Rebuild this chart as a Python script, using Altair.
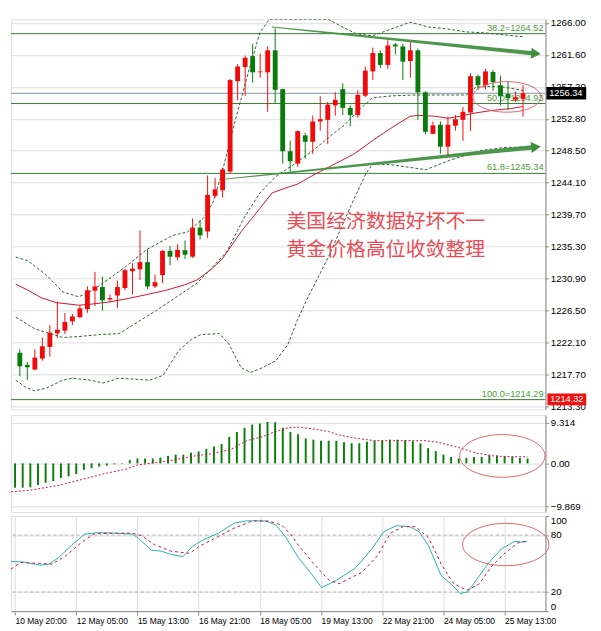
import altair as alt
import pandas as pd

# ---------------- time axis ----------------
time_labels = ["10 May 20:00", "12 May 05:00", "15 May 13:00", "16 May 21:00",
               "18 May 05:00", "19 May 13:00", "22 May 21:00", "24 May 05:00", "25 May 13:00"]
time_label_bars = [0, 8, 16, 24, 32, 40, 48, 56, 64]

# ---------------- candles ----------------
opens = [1220.72, 1219.05, 1218.42, 1219.93, 1221.52, 1223.39, 1223.75, 1225.04, 1225.61, 1226.72,
         1229.25, 1229.74, 1228.05, 1228.58, 1229.61, 1231.91, 1232.18, 1233.16, 1229.83, 1231.38,
         1234.71, 1233.83, 1234.80, 1233.91, 1237.90, 1237.37, 1242.26, 1243.02, 1245.59, 1258.01,
         1259.93, 1261.43, 1259.21, 1259.21, 1262.23, 1256.90, 1248.38, 1246.69, 1250.56, 1249.68,
         1252.47, 1252.69, 1254.68, 1256.90, 1254.34, 1253.35, 1256.01, 1259.34, 1261.87, 1260.23,
         1263.03, 1262.77, 1260.77, 1262.23, 1256.47, 1250.78, 1252.02, 1249.01, 1251.89, 1252.69,
         1253.71, 1258.68, 1257.44, 1259.26, 1257.44, 1256.24, 1255.48, 1255.58]
highs = [1221.22, 1219.49, 1221.22, 1222.81, 1224.55, 1227.74, 1226.18, 1226.05, 1227.25, 1229.83,
         1231.83, 1231.17, 1228.72, 1230.63, 1232.27, 1233.03, 1237.51, 1234.94, 1231.47, 1234.80,
         1235.37, 1235.60, 1236.13, 1239.16, 1238.93, 1245.06, 1244.70, 1246.12, 1258.30, 1260.33,
         1261.50, 1263.13, 1261.79, 1262.77, 1265.26, 1256.95, 1249.81, 1251.25, 1250.91, 1253.27,
         1255.94, 1255.14, 1256.47, 1257.71, 1254.68, 1256.77, 1260.01, 1262.59, 1262.23, 1263.66,
         1263.26, 1263.13, 1263.34, 1262.46, 1256.60, 1252.47, 1252.47, 1253.14, 1253.35, 1254.47,
         1259.13, 1258.90, 1259.70, 1259.57, 1258.77, 1258.01, 1256.55, 1257.44]
lows = [1217.49, 1216.96, 1218.30, 1219.62, 1220.19, 1222.72, 1223.31, 1224.51, 1225.45, 1226.19,
        1227.17, 1226.51, 1227.61, 1226.85, 1229.30, 1228.72, 1230.71, 1229.48, 1229.60, 1230.27,
        1232.71, 1233.38, 1233.60, 1233.74, 1236.27, 1236.49, 1242.03, 1242.03, 1245.36, 1255.35,
        1256.01, 1257.80, 1258.47, 1253.80, 1255.00, 1246.69, 1245.59, 1246.25, 1247.36, 1248.03,
        1251.22, 1249.36, 1253.27, 1253.35, 1251.81, 1253.00, 1255.80, 1258.15, 1259.79, 1259.66,
        1261.66, 1258.15, 1258.47, 1252.69, 1250.69, 1250.69, 1248.03, 1247.81, 1251.22, 1249.81,
        1251.14, 1256.81, 1256.91, 1256.68, 1254.68, 1254.02, 1255.14, 1253.14]
closes = [1218.86, 1218.73, 1220.06, 1221.61, 1223.48, 1223.88, 1224.95, 1225.71, 1226.81, 1229.30,
          1229.83, 1227.92, 1228.24, 1229.74, 1232.05, 1232.27, 1233.16, 1229.83, 1230.41, 1234.71,
          1233.91, 1234.84, 1234.18, 1237.90, 1236.84, 1242.39, 1243.15, 1245.89, 1258.15, 1260.01,
          1261.21, 1259.21, 1259.34, 1262.23, 1256.81, 1248.38, 1247.01, 1251.14, 1249.68, 1252.47,
          1252.78, 1254.78, 1255.44, 1254.34, 1253.35, 1256.11, 1259.44, 1261.87, 1260.23, 1262.90,
          1262.77, 1260.68, 1262.23, 1256.47, 1251.05, 1251.94, 1249.01, 1252.02, 1252.78, 1253.80,
          1258.68, 1257.44, 1259.34, 1257.88, 1255.93, 1255.67, 1255.80, 1256.34]

# ---------------- moving average (solid red) ----------------
ma_k = [-0.54, 1.09, 2.84, 4.84, 7.84, 9.46, 11.96, 14.46, 16.96, 19.46,
        21.96, 23.59, 25.34, 26.96, 29.46, 31.96, 33.59, 35.34, 36.96, 39.46,
        41.96, 44.46, 46.09, 46.96, 49.46, 51.96, 53.21, 55.34, 56.96, 58.59,
        60.34, 62.84, 65.34, 66.96]
ma_p = [1230.14, 1229.30, 1228.28, 1227.61, 1227.25, 1227.39, 1227.70, 1228.18, 1228.72, 1229.30,
        1230.05, 1230.71, 1232.05, 1233.60, 1237.33, 1240.53, 1242.66, 1243.32, 1243.86, 1245.32,
        1246.65, 1247.99, 1249.18, 1249.85, 1251.58, 1253.18, 1253.31, 1253.18, 1252.91, 1253.18,
        1253.58, 1253.98, 1254.24, 1254.51]

# ---------------- Bollinger bands (dashed) ----------------
bb_up_k = [-0.54, 1.09, 3.59, 5.71, 7.84, 9.09, 11.09, 14.09, 16.96, 20.34,
           22.34, 24.46, 25.71, 26.96, 28.59, 30.34, 31.96, 33.21, 35.09, 36.96,
           38.21, 39.46, 41.09, 43.21, 44.84, 46.96, 49.46, 51.96, 54.46, 56.96,
           59.46, 61.96, 64.46, 66.96]
bb_up_p = [1233.87, 1233.34, 1231.34, 1229.08, 1228.41, 1228.94, 1230.28, 1232.54, 1234.94, 1236.80,
           1237.33, 1239.20, 1241.33, 1245.59, 1252.25, 1258.90, 1264.63, 1267.56, 1269.16, 1269.55,
           1268.62, 1267.56, 1267.16, 1265.29, 1264.49, 1264.23, 1265.16, 1266.09, 1265.43, 1265.16,
           1264.76, 1264.63, 1264.36, 1264.10]
bb_mid_k = [-0.54, 1.96, 4.46, 5.71, 7.84, 10.71, 13.21, 15.71, 18.21, 21.09,
            23.59, 26.09, 27.59, 29.84, 31.96, 34.09, 36.59, 39.09, 41.09, 43.21,
            45.34, 46.96, 49.46, 52.84, 56.09, 59.46, 60.71, 63.59, 66.09, 67.34]
bb_mid_p = [1225.61, 1224.02, 1223.22, 1222.82, 1222.95, 1223.22, 1223.35, 1224.95, 1226.55, 1228.54,
            1230.28, 1232.94, 1234.67, 1239.20, 1242.66, 1244.92, 1246.65, 1248.52, 1250.25, 1251.98,
            1254.24, 1255.71, 1255.98, 1256.11, 1256.11, 1256.11, 1257.17, 1257.31, 1256.91, 1256.64]
bb_lo_k = [-0.54, 0.71, 1.96, 3.59, 5.71, 6.96, 9.46, 11.09, 13.21, 15.34,
           17.34, 19.09, 21.09, 22.84, 24.09, 26.59, 27.84, 29.46, 30.71, 32.34,
           34.09, 35.71, 36.96, 38.21, 41.09, 44.09, 46.09, 46.96, 49.46, 54.09,
           57.34, 61.59, 64.84, 66.96]
bb_lo_p = [1216.96, 1216.03, 1215.49, 1215.89, 1216.96, 1217.23, 1216.96, 1216.56, 1217.23, 1217.09,
           1216.96, 1217.62, 1220.95, 1222.55, 1223.22, 1223.35, 1221.89, 1218.69, 1218.02, 1218.69,
           1219.62, 1221.89, 1225.22, 1228.01, 1233.87, 1240.93, 1245.32, 1246.65, 1246.52, 1245.85,
           1247.19, 1248.52, 1248.92, 1248.92]

# ---------------- Fibonacci levels / price tags ----------------
fib_names = ["38.2", "50.0", "61.8", "100.0"]
fib_levels = [1264.52, 1254.93, 1245.34, 1214.29]
bid_price = 1256.34
low_tag_price = 1214.32
price_ticks = [1266.00, 1261.60, 1257.20, 1252.80, 1248.50, 1244.10, 1239.70,
               1235.30, 1230.90, 1226.50, 1222.10, 1217.70, 1213.30]

# ---------------- trend lines ----------------
trend_names = ["upper", "upper", "lower", "lower"]
trend_k = [33.6, 68.1, 26.96, 68.1]
trend_p = [1265.43, 1261.85, 1244.52, 1248.90]
head_k = [68.72, 68.72]
head_p = [1261.78, 1248.97]

# ---------------- annotation ----------------
note_lines = ["美国经济数据好坏不一", "黄金价格高位收敛整理"]
note_k = [35.5, 35.5]
note_p = [1238.70, 1234.85]
ellipse_main = (64.84, 1255.84)

# ---------------- MACD ----------------
macd_hist = [-5.58, -5.58, -5.5, -4.98, -4.46, -4.08, -3.35, -2.97, -2.45, -1.49,
             -1.12, -0.74, -0.51, -0.2, -0.1, 0.75, 1.12, 1.12, 1.12, 1.34,
             1.72, 2.01, 2.01, 2.46, 2.76, 3.35, 3.88, 4.46, 6.1, 7.23,
             8.19, 8.93, 9.15, 9.53, 9.45, 8.19, 7.23, 6.7, 5.74, 5.45,
             5.22, 5.22, 5.22, 4.84, 4.62, 4.62, 4.99, 5.22, 5.22, 5.45,
             5.45, 5.37, 5.07, 4.62, 3.5, 2.83, 2.01, 1.49, 1.12, 1.27,
             1.49, 1.49, 1.86, 1.86, 1.64, 1.49, 1.27, 1.12]
macd_sig_k = [-0.5, 2, 5.7, 9.5, 12, 14.5, 16, 18.2, 20.7, 23.2,
              25.7, 28.2, 30.3, 32.3, 34, 35.7, 37, 39.5, 41, 42.3,
              44.5, 47, 53.6, 55.3, 57.8, 60.3, 62.8, 67]
macd_sig_v = [-6.54, -6.16, -5.04, -3.35, -2.23, -1.34, -0.36, 0.16, 0.76, 1.65,
              2.23, 3.21, 5.22, 6.12, 7.3, 8.19, 8.35, 7.81, 7.3, 6.56,
              5.8, 5.22, 5.22, 4.84, 3.73, 2.39, 1.65, 1.5]
macd_ticks = [-9.869, 0.0, 9.314]
ellipse_macd = (63.7, 1.72)

# ---------------- Stochastic ----------------
stk_k = [-0.54, 1.09, 3.21, 4.46, 5.71, 7.34, 9.09, 11.09, 12.84, 15.34,
         16.09, 17.84, 19.09, 20.34, 21.96, 23.21, 24.46, 26.59, 28.59, 30.34,
         32.84, 34.09, 35.34, 36.96, 38.59, 40.09, 41.96, 44.46, 46.59, 48.21,
         49.84, 51.59, 52.84, 54.09, 55.71, 56.96, 58.21, 59.21, 60.71, 61.96,
         63.59, 65.34, 66.09, 66.96]
stk_v = [52.2, 51.7, 48.4, 49.4, 56.3, 68.9, 81.0, 82.6, 82.0, 81.0,
         76.8, 64.1, 63.1, 59.7, 57.3, 68.2, 74.4, 82.0, 92.3, 95.0,
         94.7, 90.5, 78.5, 57.1, 40.8, 24.7, 32.2, 45.0, 64.8, 83.6,
         89.8, 88.8, 83.6, 68.2, 37.3, 28.8, 18.5, 20.3, 37.3, 51.1,
         65.5, 73.4, 72.7, 73.4]
std_k = [-0.54, 0.71, 3.21, 4.84, 6.59, 8.59, 10.34, 12.84, 15.34, 16.59,
         18.21, 20.34, 22.84, 24.09, 26.59, 28.59, 31.09, 33.21, 34.84, 36.09,
         36.96, 39.46, 41.09, 42.34, 45.34, 47.34, 49.09, 50.71, 52.34, 54.09,
         55.71, 57.34, 59.09, 60.71, 62.34, 64.09, 65.71, 66.96]
std_v = [44.2, 51.1, 50.1, 49.4, 57.9, 71.7, 81.3, 82.0, 82.0, 79.2,
         70.0, 63.1, 60.7, 68.2, 78.5, 87.1, 95.0, 94.7, 90.5, 80.2,
         70.0, 46.0, 32.2, 28.8, 40.8, 57.9, 82.0, 88.8, 88.8, 76.8,
         49.4, 28.8, 21.9, 28.8, 47.6, 61.4, 71.7, 73.4]
stoch_levels = [20, 80]
stoch_ticks = [0, 20, 80, 100]
ellipse_sto = (64.15, 70.0)

# ================= styling =================
W = 551
H_MAIN, H_MACD, H_STO = 402, 100, 98
RED = "#f00a0a"
GREEN = "#0a7a0a"
BB = "#2f5f2f"
MA = "#cc1133"
FIB = "#2b7b2b"
FIBTXT = "#4b9b3b"
TREND = "#3e8e3e"
ELLC = "#e0606a"
NOTE = "#ec4b55"
FONT = "Liberation Sans"


def ellipse_path(ratio):
    return f"M-1,0A1,{ratio},0,1,0,1,0A1,{ratio},0,1,0,-1,0Z"


xscale = alt.Scale(domain=[-0.54, 69.34], nice=False, zero=False)
x_axis = alt.Axis(values=time_label_bars, title=None, labelAlign="left", labelBaseline="top",
                  labelPadding=2, tickSize=4, labelFlush=False, labelOverlap=False,
                  labelFontSize=8.7,
                  labelExpr="[" + ",".join(f"'{t}'" for t in time_labels) + "][round(datum.value / 8)]")


def X(f, axis=None):
    return alt.X(f, type="quantitative", scale=xscale, axis=axis)


pscale = alt.Scale(domain=[1212.96, 1266.49], nice=False, zero=False, clamp=True)
paxis = alt.Axis(orient="right", values=price_ticks, format=".2f", title=None,
                 labelOverlap=False, tickSize=3, labelPadding=2, labelFlush=False)


def PY(f):
    return alt.Y(f, type="quantitative", scale=pscale, axis=paxis)


# ---- main panel data ----
n = len(opens)
cdf = pd.DataFrame({"k": list(range(n)), "o": opens, "h": highs, "l": lows, "c": closes})
cdf["dir"] = ["up" if c >= o else "down" for o, c in zip(opens, closes)]
dcolor = alt.Color("dir:N", scale=alt.Scale(domain=["up", "down"], range=[RED, GREEN]), legend=None)

band_df = pd.concat([
    pd.DataFrame({"band": "upper", "k": bb_up_k, "p": bb_up_p}),
    pd.DataFrame({"band": "middle", "k": bb_mid_k, "p": bb_mid_p}),
    pd.DataFrame({"band": "lower", "k": bb_lo_k, "p": bb_lo_p}),
])
ma_df = pd.DataFrame({"k": ma_k, "p": ma_p})
fib_df = pd.DataFrame({"p": fib_levels,
                       "label": [f"{nm}={v:.2f}" for nm, v in zip(fib_names, fib_levels)]})
bid_df = pd.DataFrame({"p": [bid_price], "label": [f"{bid_price:.2f}"]})
low_df = pd.DataFrame({"p": [low_tag_price], "label": [f"{low_tag_price:.2f}"]})
trend_df = pd.DataFrame({"name": trend_names, "k": trend_k, "p": trend_p,
                         "w": [1.0, 4.5, 1.0, 4.5]})
head_df = pd.DataFrame({"k": head_k, "p": head_p, "a": [5.6, 354.3]})
note_df = pd.DataFrame({"k": note_k, "p": note_p, "t": note_lines})
ell_main_df = pd.DataFrame({"k": [ellipse_main[0]], "p": [ellipse_main[1]]})

fib_rules = alt.Chart(fib_df).mark_rule(color=FIB, strokeWidth=1).encode(y=PY("p"))
bid_rule = alt.Chart(bid_df).mark_rule(color="#8090a4", strokeWidth=1).encode(y=PY("p"))
fib_text = alt.Chart(fib_df).mark_text(align="right", baseline="bottom", dy=-1, fontSize=9.5,
                                       font=FONT, color=FIBTXT).encode(
    x=alt.value(W - 2), y=PY("p"), text="label:N")
bands = alt.Chart(band_df).mark_line(strokeDash=[3, 2], strokeWidth=1, color=BB, clip=True).encode(
    x=X("k"), y=PY("p"), detail="band:N")
ma_line = alt.Chart(ma_df).mark_line(color=MA, strokeWidth=1).encode(x=X("k"), y=PY("p"))
note = alt.Chart(note_df).mark_text(align="left", baseline="middle", fontSize=20.5,
                                    font="Noto Sans CJK SC", color=NOTE).encode(
    x=X("k"), y=PY("p"), text="t:N")
trend = alt.Chart(trend_df).mark_trail(color=TREND, opacity=0.92).encode(
    x=X("k"), y=PY("p"), detail="name:N", size=alt.Size("w:Q", scale=None, legend=None))
heads = alt.Chart(head_df).mark_point(shape="triangle-right", filled=True, size=130,
                                      color=TREND, opacity=1).encode(
    x=X("k"), y=PY("p"), angle=alt.Angle("a:Q", scale=None))
wicks = alt.Chart(cdf).mark_rule(strokeWidth=1).encode(x=X("k"), y=PY("l"), y2="h", color=dcolor)
bodies = alt.Chart(cdf).mark_bar(size=5).encode(x=X("k"), y=PY("o"), y2="c", color=dcolor)
ell_main = alt.Chart(ell_main_df).mark_point(shape=ellipse_path(0.45), size=4900, filled=False,
                                              color=ELLC, strokeWidth=1, opacity=1).encode(
    x=X("k"), y=PY("p"))
bid_tag = alt.Chart(bid_df).mark_rule(color="black", strokeWidth=13, strokeCap="butt").encode(
    x=alt.value(W + 1), x2=alt.value(W + 42), y=PY("p"))
bid_txt = alt.Chart(bid_df).mark_text(color="white", fontSize=9.5, font=FONT, align="center",
                                      baseline="middle").encode(
    x=alt.value(W + 21), y=PY("p"), text="label:N")
low_tag = alt.Chart(low_df).mark_rule(color="#f01010", strokeWidth=12, strokeCap="butt").encode(
    x=alt.value(W + 2), x2=alt.value(W + 42), y=PY("p"))
low_txt = alt.Chart(low_df).mark_text(color="white", fontSize=9.5, font=FONT, align="center",
                                      baseline="middle").encode(
    x=alt.value(W + 22), y=PY("p"), text="label:N")

main = alt.layer(fib_rules, bid_rule, fib_text, bands, ma_line, note, trend, heads,
                 wicks, bodies, ell_main, bid_tag, bid_txt, low_tag, low_txt).properties(
    width=W, height=H_MAIN)

# ---- MACD panel ----
mscale = alt.Scale(domain=[-11.2, 11.09], nice=False, zero=False)
maxis = alt.Axis(orient="right", values=macd_ticks, title=None, labelOverlap=False, tickSize=3,
                 labelPadding=2, labelFlush=False,
                 labelExpr="datum.value == 0 ? '0.00' : format(datum.value, '.3f')")


def MY(f):
    return alt.Y(f, type="quantitative", scale=mscale, axis=maxis)


hist_df = pd.DataFrame({"k": list(range(len(macd_hist))), "v": macd_hist})
hist_df["base"] = 0.0
sig_df = pd.DataFrame({"k": macd_sig_k, "v": macd_sig_v})
ell_macd_df = pd.DataFrame({"k": [ellipse_macd[0]], "v": [ellipse_macd[1]]})

hist = alt.Chart(hist_df).mark_rule(strokeWidth=2, color="#0b7d0b").encode(
    x=X("k"), y=MY("base"), y2="v")
sig = alt.Chart(sig_df).mark_line(strokeDash=[2, 2], strokeWidth=1, color="#cc1040").encode(
    x=X("k"), y=MY("v"))
ell_macd = alt.Chart(ell_macd_df).mark_point(shape=ellipse_path(0.5), size=7744, filled=False,
                                              color=ELLC, strokeWidth=1, opacity=1).encode(
    x=X("k"), y=MY("v"))
macd = alt.layer(hist, sig, ell_macd).properties(width=W, height=H_MACD)

# ---- Stochastic panel ----
sscale = alt.Scale(domain=[0, 100], nice=False, zero=False)
saxis = alt.Axis(orient="right", values=stoch_ticks, title=None, labelOverlap=False, tickSize=3,
                 labelPadding=2, labelFlush=True)


def SY(f):
    return alt.Y(f, type="quantitative", scale=sscale, axis=saxis)


lvl_df = pd.DataFrame({"v": stoch_levels})
k_df = pd.DataFrame({"k": stk_k, "v": stk_v})
d_df = pd.DataFrame({"k": std_k, "v": std_v})
ell_sto_df = pd.DataFrame({"k": [ellipse_sto[0]], "v": [ellipse_sto[1]]})

lvls = alt.Chart(lvl_df).mark_rule(strokeDash=[3, 3], color="#b4b4b4", strokeWidth=1).encode(
    y=SY("v"))
k_line = alt.Chart(k_df).mark_line(color="#20b2aa", strokeWidth=1).encode(
    x=X("k", x_axis), y=SY("v"))
d_line = alt.Chart(d_df).mark_line(color="#c8143c", strokeDash=[3, 3], strokeWidth=1).encode(
    x=X("k", x_axis), y=SY("v"))
ell_sto = alt.Chart(ell_sto_df).mark_point(shape=ellipse_path(0.49), size=7921, filled=False,
                                            color=ELLC, strokeWidth=1, opacity=1).encode(
    x=X("k", x_axis), y=SY("v"))
sto = alt.layer(lvls, k_line, d_line, ell_sto).properties(width=W, height=H_STO)

chart = alt.vconcat(main, macd, sto, spacing=2).properties(
    padding={"left": 0, "top": 0, "right": 0, "bottom": 0}
).configure_view(stroke="black", strokeWidth=1).configure_axis(
    labelFont=FONT, labelFontSize=9, labelColor="black", tickColor="black",
    domainColor="black", grid=False
).configure(background="white")

chart.save("out.html", embed_options={"renderer": "svg", "actions": False})
